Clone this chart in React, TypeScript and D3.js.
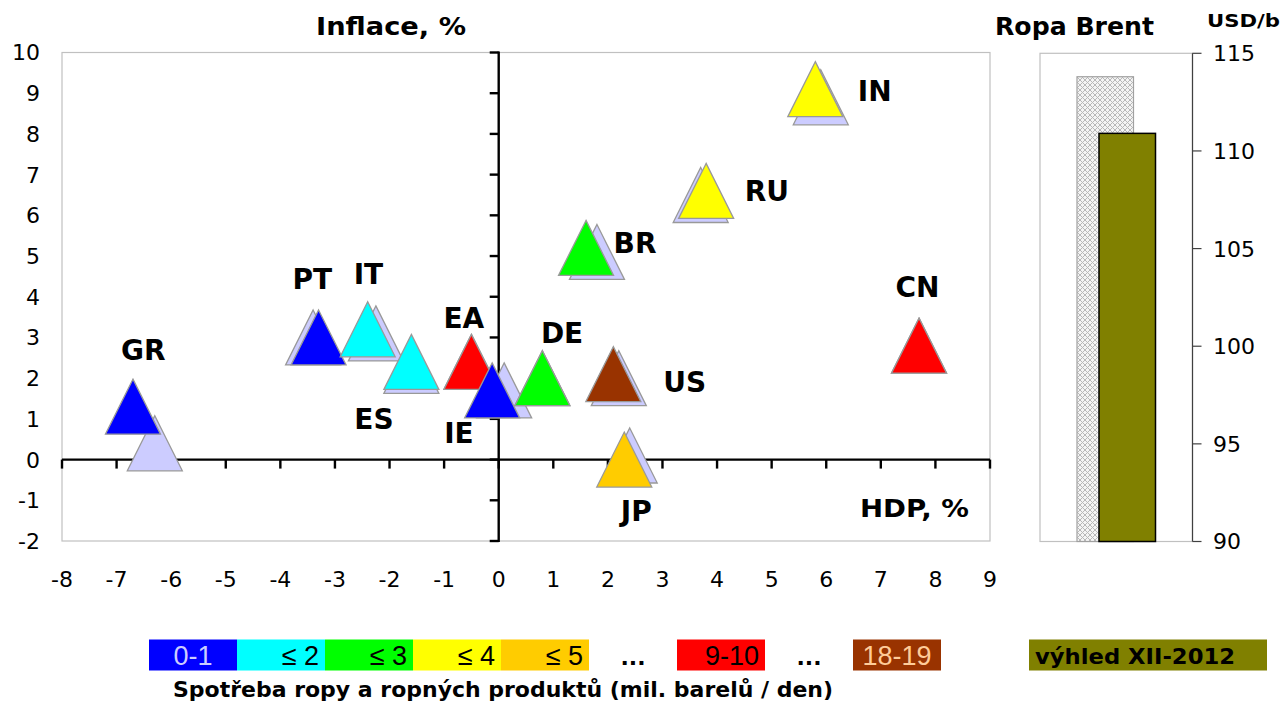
import React from "react";
import * as d3 from "d3";

// ---------- data ----------
const countries = ["GR", "PT", "IT", "ES", "EA", "IE", "DE", "US", "JP", "CN", "BR", "RU", "IN"];
const gdpNew = [-6.7, -3.3, -2.4, -1.6, -0.5, -0.12, 0.8, 2.1, 2.3, 7.7, 1.6, 3.8, 5.8];
const inflNew = [1.3, 3.0, 3.2, 2.4, 2.4, 1.7, 2.0, 2.1, 0.0, 2.8, 5.2, 6.6, 9.1];
const gdpPrev = [-6.3, -3.4, -2.25, -1.6, -0.5, 0.1, 0.8, 2.2, 2.4, 7.7, 1.8, 3.7, 5.9];
const inflPrev = [0.4, 3.0, 3.1, 2.3, 2.4, 1.7, 2.0, 2.0, 0.1, 2.8, 5.1, 6.5, 8.9];
const consumptionClass = ["0-1", "0-1", "≤ 2", "≤ 2", "9-10", "0-1", "≤ 3", "18-19", "≤ 5", "9-10", "≤ 3", "≤ 4", "≤ 4"];

const legendClasses = ["0-1", "≤ 2", "≤ 3", "≤ 4", "≤ 5", "...", "9-10", "...", "18-19"];
const xTicks = [-8, -7, -6, -5, -4, -3, -2, -1, 0, 1, 2, 3, 4, 5, 6, 7, 8, 9];
const yTicks = [-2, -1, 0, 1, 2, 3, 4, 5, 6, 7, 8, 9, 10];

const brentSeries = ["prev", "outlook"];
const brentValues = [113.8, 110.9];
const brentTicks = [90, 95, 100, 105, 110, 115];

// ---------- styles ----------
const classColor: Record<string, string> = {
  "0-1": "#0000ff",
  "≤ 2": "#00ffff",
  "≤ 3": "#00ff00",
  "≤ 4": "#ffff00",
  "≤ 5": "#ffcc00",
  "9-10": "#ff0000",
  "18-19": "#993300",
};
const classTextColor: Record<string, string> = {
  "0-1": "#ccccff",
  "18-19": "#ffcc99",
};
const prevColor = "#ccccff";
const labelOffsets: Record<string, [number, number]> = {
  GR: [-12, -47],
  PT: [-26, -48],
  IT: [-14, -45],
  ES: [-57, 67],
  EA: [-28, -34],
  IE: [-48, 53],
  DE: [-1.5, -35],
  US: [50, 18],
  JP: [-3.5, 61],
  CN: [-23.5, -49],
  BR: [27.5, 5],
  RU: [38.5, 10.5],
  IN: [42.5, 11.5],
};

const FONT = "'DejaVu Sans', Verdana, sans-serif";
const LFONT = "'Liberation Sans', Arial, sans-serif";

const W = 1282;
const H = 702;

function tri(cx: number, cy: number, s = 55) {
  const h = s / 2;
  return `M${cx},${cy - h}L${cx + h},${cy + h}L${cx - h},${cy + h}Z`;
}

export default function App() {
  const x = d3.scaleLinear().domain([-8, 9]).range([62, 990]);
  const y = d3.scaleLinear().domain([-2, 10]).range([541, 52.5]);
  const yb = d3.scaleLinear().domain([90, 115]).range([541.5, 53.3]);
  const xb = d3.scalePoint().domain(brentSeries).range([1077, 1099]);
  const barW = 56.5;
  const legendX = d3.scaleBand().domain(legendClasses.map((d, i) => d + i)).range([149, 941]);

  const x0 = x(0);
  const y0 = y(0);

  return (
    <svg width={W} height={H} style={{ position: "absolute", left: 0, top: 0, background: "#fff" }}>
      <defs>
        <pattern id="hatch" width="5" height="5" patternUnits="userSpaceOnUse">
          <rect width="5" height="5" fill="#f4f4f4" />
          <path d="M0,0L5,5M5,0L0,5" stroke="#b8b8b8" strokeWidth="1" />
        </pattern>
      </defs>

      {/* main plot frame */}
      <rect x={x(-8)} y={y(10)} width={x(9) - x(-8)} height={y(-2) - y(10)} fill="#fff" stroke="#c0c0c0" strokeWidth={1.2} />

      {/* axes */}
      <line x1={x(-8)} x2={x(9)} y1={y0} y2={y0} stroke="#000" strokeWidth={2.4} />
      {xTicks.map((t) => (
        <line key={"xt" + t} x1={x(t)} x2={x(t)} y1={y0} y2={y0 + 9} stroke="#000" strokeWidth={2.4} />
      ))}
      <line x1={x0} x2={x0} y1={y(10) - 1} y2={y(-2) + 1} stroke="#000" strokeWidth={2.4} />
      {yTicks.map((t) => (
        <line key={"yt" + t} x1={x0 - 9} x2={x0} y1={y(t)} y2={y(t)} stroke="#000" strokeWidth={2.4} />
      ))}
      {yTicks.map((t) => (
        <text key={"yl" + t} x={40} y={y(t)} dy="0.36em" textAnchor="end" fontFamily={FONT} fontSize={22} fill="#000">
          {t}
        </text>
      ))}
      {xTicks.map((t) => (
        <text key={"xl" + t} x={x(t)} y={587} textAnchor="middle" fontFamily={FONT} fontSize={22} fill="#000">
          {t}
        </text>
      ))}
      <text x={316} y={35} textLength={150} lengthAdjust="spacingAndGlyphs" fontFamily={FONT} fontWeight="bold" fontSize={24}>
        Inflace, %
      </text>
      <text x={860} y={517} textLength={109} lengthAdjust="spacingAndGlyphs" fontFamily={FONT} fontWeight="bold" fontSize={24}>
        HDP, %
      </text>

      {/* previous forecast markers */}
      {countries.map((c, i) => (
        <path key={"p" + c} d={tri(x(gdpPrev[i]), y(inflPrev[i]))} fill={prevColor} stroke="#999" strokeWidth={1.3} />
      ))}
      {/* current markers */}
      {countries.map((c, i) => (
        <path
          key={"n" + c}
          d={tri(x(gdpNew[i]), y(inflNew[i]))}
          fill={classColor[consumptionClass[i]]}
          stroke="#999"
          strokeWidth={1.3}
        />
      ))}
      {countries.map((c, i) => (
        <text
          key={"l" + c}
          x={x(gdpNew[i]) + labelOffsets[c][0]}
          y={y(inflNew[i]) + labelOffsets[c][1]}
          fontFamily={FONT}
          fontWeight="bold"
          fontSize={28}
          fill="#000"
        >
          {c}
        </text>
      ))}

      {/* Brent panel */}
      <text x={995} y={35} textLength={159} lengthAdjust="spacingAndGlyphs" fontFamily={FONT} fontWeight="bold" fontSize={24}>
        Ropa Brent
      </text>
      <text x={1207} y={27} textLength={73} lengthAdjust="spacingAndGlyphs" fontFamily={FONT} fontWeight="bold" fontSize={18}>
        USD/b
      </text>
      <rect x={1040} y={yb(115)} width={1192.5 - 1040} height={yb(90) - yb(115)} fill="#fff" stroke="#c0c0c0" strokeWidth={1.2} />
      {brentSeries.map((s, i) => (
        <rect
          key={s}
          x={xb(s)!}
          y={yb(brentValues[i])}
          width={barW}
          height={yb(90) - yb(brentValues[i])}
          fill={i === 0 ? "url(#hatch)" : "#808000"}
          stroke={i === 0 ? "#a0a0a0" : "#000"}
          strokeWidth={i === 0 ? 1.2 : 1.5}
        />
      ))}
      <line x1={1192.5} x2={1192.5} y1={yb(115)} y2={yb(90)} stroke="#404040" strokeWidth={1.2} />
      {brentTicks.map((t) => (
        <g key={"bt" + t}>
          <line x1={1192.5} x2={1201.5} y1={yb(t)} y2={yb(t)} stroke="#404040" strokeWidth={1.2} />
          <text x={1213} y={yb(t)} dy="0.36em" fontFamily={FONT} fontSize={22} fill="#000">
            {t}
          </text>
        </g>
      ))}

      {/* legend */}
      {legendClasses.map((d, i) => {
        const key = d + i;
        const bx = legendX(key)!;
        const bw = legendX.bandwidth();
        if (d === "...") {
          return (
            <text key={key} x={bx + bw / 2} y={665} textAnchor="middle" fontFamily={FONT} fontWeight="bold" fontSize={22}>
              ...
            </text>
          );
        }
        const centered = d === "0-1" || d === "18-19";
        return (
          <g key={key}>
            <rect x={bx} y={639.5} width={bw} height={31} fill={classColor[d]} />
            <text
              x={centered ? bx + bw / 2 : bx + bw - 6}
              y={665}
              textAnchor={centered ? "middle" : "end"}
              fontFamily={LFONT}
              fontSize={27}
              fill={classTextColor[d] || "#000"}
            >
              {d}
            </text>
          </g>
        );
      })}
      <text x={173} y={697} textLength={660} lengthAdjust="spacingAndGlyphs" fontFamily={FONT} fontWeight="bold" fontSize={21}>
        Spotřeba ropy a ropných produktů (mil. barelů / den)
      </text>
      <rect x={1029} y={639.5} width={238} height={31} fill="#808000" />
      <text x={1035} y={664} textLength={200} lengthAdjust="spacingAndGlyphs" fontFamily={FONT} fontWeight="bold" fontSize={21} fill="#000">
        výhled XII-2012
      </text>
    </svg>
  );
}
